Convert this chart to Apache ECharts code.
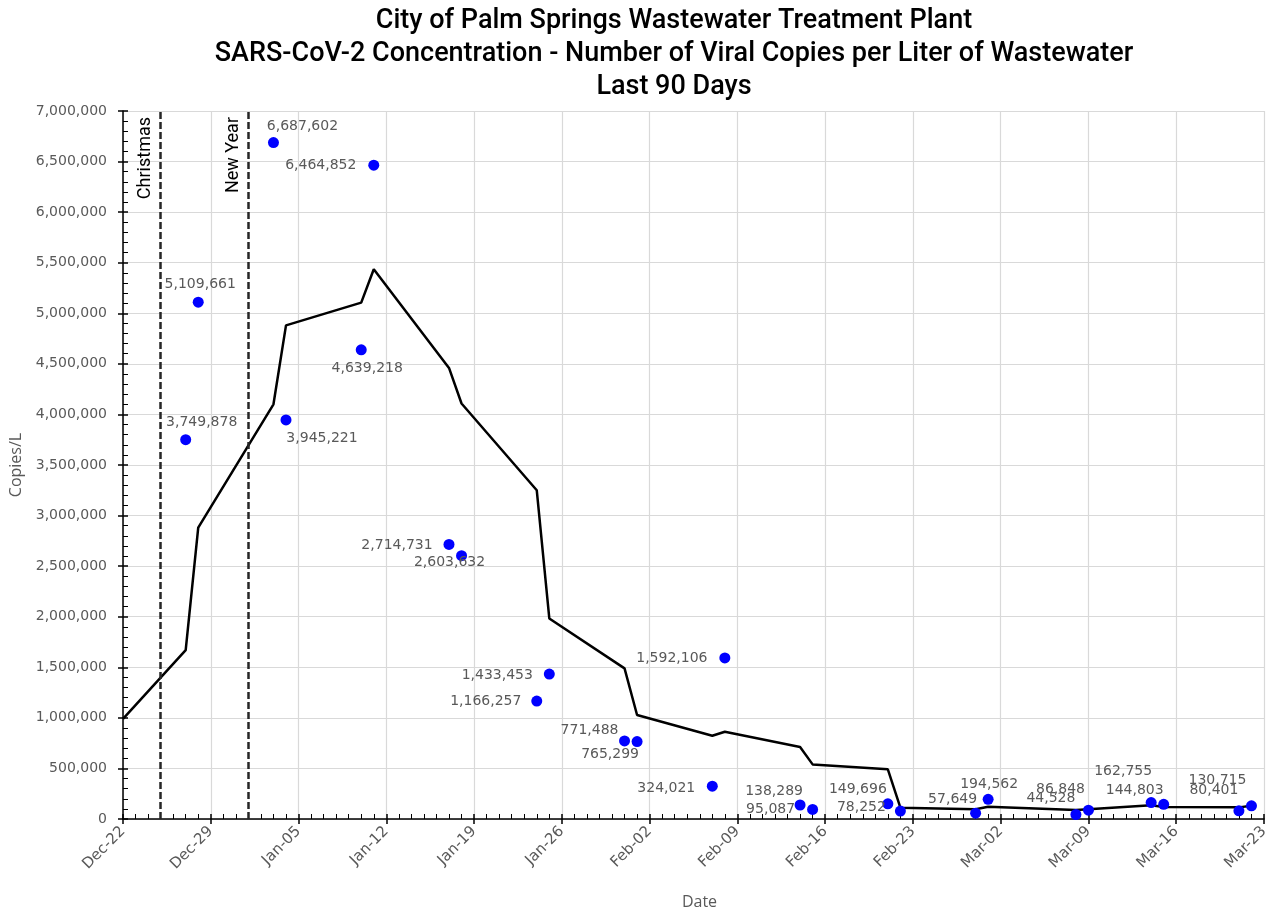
<!DOCTYPE html>
<html>
<head>
<meta charset="utf-8">
<script src="https://cdn.jsdelivr.net/npm/echarts@6/dist/echarts.min.js"></script>
<style>html,body{margin:0;padding:0;background:#fff}#c{width:1280px;height:909px}</style>
</head>
<body>
<div id="c"></div>
<script>
// ---- data ----
const startDate = '2022-12-22';
const sampleDates = ['2022-12-27','2022-12-28','2023-01-03','2023-01-04','2023-01-10','2023-01-11','2023-01-17','2023-01-18','2023-01-24','2023-01-25','2023-01-31','2023-02-01','2023-02-07','2023-02-08','2023-02-14','2023-02-15','2023-02-21','2023-02-22','2023-02-28','2023-03-01','2023-03-08','2023-03-09','2023-03-14','2023-03-15','2023-03-21','2023-03-22'];
const concentrations = [3749878,5109661,6687602,3945221,4639218,6464852,2714731,2603632,1166257,1433453,771488,765299,324021,1592106,138289,95087,149696,78252,57649,194562,44528,86848,162755,144803,80401,130715];
const trendDates = ['2022-12-22','2022-12-27','2022-12-28','2023-01-03','2023-01-04','2023-01-10','2023-01-11','2023-01-17','2023-01-18','2023-01-24','2023-01-25','2023-01-31','2023-02-01','2023-02-07','2023-02-08','2023-02-14','2023-02-15','2023-02-21','2023-02-22','2023-02-28','2023-03-01','2023-03-08','2023-03-09','2023-03-14','2023-03-15','2023-03-21','2023-03-22'];
const trendValues = [990000,1670000,2880000,4100000,4880000,5105000,5435000,4460000,4108000,3250000,1983000,1489000,1028000,823000,863000,711000,540000,491000,112000,96000,122000,89000,96000,135000,119000,115000,131000];
const holidayDates = ['2022-12-25','2023-01-01'];
const holidayNames = ['Christmas','New Year'];
const titleLines = ['City of Palm Springs Wastewater Treatment Plant','SARS-CoV-2 Concentration - Number of Viral Copies per Liter of Wastewater','Last 90 Days'];
const monthNames = ['Jan','Feb','Mar','Apr','May','Jun','Jul','Aug','Sep','Oct','Nov','Dec'];

// ---- label placement (layout only) ----
const labelOffsets = [[16,-17],[2,-18],[29,-16],[36,18],[6,19],[-53,0],[-52,1],[-12,7],[-51,0],[-52,1],[-35,-11],[-27,13],[-46,2],[-53,0],[-26,-14],[-42,0],[-30,-14],[-39,-4],[-23,-14],[1,-15],[-25,-16],[-28,-21],[-28,-31],[-29,-14],[-25,-21],[-34,-25]];

const DAY = 86400000;
function toUTC(s){const p=s.split('-').map(Number);return Date.UTC(p[0],p[1]-1,p[2]);}
const t0 = toUTC(startDate);
function dayIdx(s){return Math.round((toUTC(s)-t0)/DAY);}
function fmtDay(v){const d=new Date(t0+v*DAY);return monthNames[d.getUTCMonth()]+'-'+String(d.getUTCDate()).padStart(2,'0');}
function fmtNum(v){return v.toLocaleString('en-US');}

const scatterData = sampleDates.map((d,i)=>({
  value:[dayIdx(d),concentrations[i]],
  label:{offset:labelOffsets[i]}
}));
const lineData = trendDates.map((d,i)=>[dayIdx(d),trendValues[i]]);

const chart = echarts.init(document.getElementById('c'),null,{renderer:'canvas'});
const axisGrey = '#595959';
const lblFont = 'DejaVu Sans';
const gridBox = {left:123,right:16,top:111,bottom:90,containLabel:false,outerBoundsMode:'none'};
const xCommon = {type:'value',min:0,max:91,interval:7,position:'bottom'};
const yCommon = {type:'value',min:0,max:7000000,interval:500000,position:'left'};
chart.setOption({
  animation:false,
  backgroundColor:'#fff',
  title:{
    text:titleLines.join('\n'),
    left:669, top:0, textAlign:'center',
    textStyle:{fontFamily:'Roboto',fontSize:27,fontWeight:500,color:'#000',lineHeight:33}
  },
  grid:[Object.assign({},gridBox),Object.assign({},gridBox)],
  xAxis:[
    Object.assign({},xCommon,{
      gridIndex:0,
      name:'Date',nameLocation:'middle',nameGap:75,
      nameTextStyle:{fontFamily:'Open Sans',fontSize:16,color:axisGrey,padding:[0,0,0,12]},
      axisLine:{show:true,onZero:false,lineStyle:{color:'#000',width:1.5}},
      axisTick:{show:true,inside:true,length:5,lineStyle:{color:'#000',width:1.5}},
      minorTick:{show:true,splitNumber:7,length:5,lineStyle:{color:'#000',width:1}},
      axisLabel:{rotate:45,margin:10,fontFamily:lblFont,fontSize:15,color:axisGrey,formatter:fmtDay},
      splitLine:{show:true,lineStyle:{color:'#d9d9d9',width:1.2}}
    }),
    Object.assign({},xCommon,{
      gridIndex:1,
      axisLine:{show:false},axisLabel:{show:false},splitLine:{show:false},
      axisTick:{show:true,inside:false,length:5,lineStyle:{color:'#000',width:1.5}}
    })
  ],
  yAxis:[
    Object.assign({},yCommon,{
      gridIndex:0,
      name:'Copies/L',nameLocation:'middle',nameGap:93,
      nameTextStyle:{fontFamily:'Open Sans',fontSize:16,color:axisGrey},
      axisLine:{show:true,onZero:false,lineStyle:{color:'#000',width:1.5}},
      axisTick:{show:true,inside:true,length:5,lineStyle:{color:'#000',width:1.5}},
      minorTick:{show:true,splitNumber:5,length:5,lineStyle:{color:'#000',width:1}},
      axisLabel:{margin:16,fontFamily:lblFont,fontSize:14,color:axisGrey,formatter:fmtNum},
      splitLine:{show:true,lineStyle:{color:'#d9d9d9',width:1.2}}
    }),
    Object.assign({},yCommon,{
      gridIndex:1,
      axisLine:{show:false},axisLabel:{show:false},splitLine:{show:false},
      axisTick:{show:true,inside:false,length:5,lineStyle:{color:'#000',width:1.5}}
    })
  ],
  series:[
    {
      type:'line',xAxisIndex:0,yAxisIndex:0,data:lineData,
      symbol:'none',z:2,
      lineStyle:{color:'#000',width:2.5},
      markLine:{
        silent:true,symbol:'none',
        lineStyle:{color:'#262626',width:2.5,type:[7,3]},
        label:{show:true,position:'insideEndTop',distance:6,color:'#000',fontFamily:'Roboto',fontSize:18,
          formatter:p=>p.name},
        data:holidayDates.map((d,i)=>({xAxis:dayIdx(d),name:holidayNames[i]}))
      }
    },
    {
      type:'scatter',xAxisIndex:0,yAxisIndex:0,data:scatterData,
      symbol:'circle',symbolSize:11,z:3,
      itemStyle:{color:'#0000ff',opacity:1},
      label:{show:true,position:'inside',fontFamily:lblFont,fontSize:14,color:'#595959',
        formatter:p=>fmtNum(p.value[1])}
    }
  ]
});
</script>
</body>
</html>
